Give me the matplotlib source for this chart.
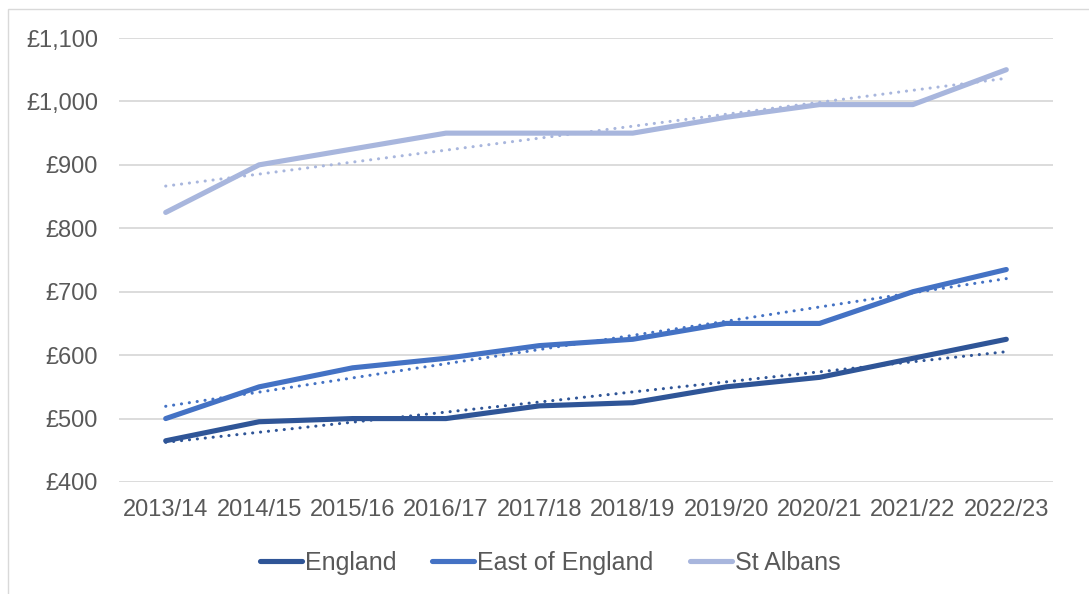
import matplotlib.pyplot as plt
import numpy as np
from matplotlib.patches import Rectangle
from matplotlib.ticker import FuncFormatter

plt.rcParams['font.family'] = ['Liberation Sans', 'DejaVu Sans']

years = ['2013/14', '2014/15', '2015/16', '2016/17', '2017/18',
         '2018/19', '2019/20', '2020/21', '2021/22', '2022/23']
england = [465, 495, 500, 500, 520, 525, 550, 565, 595, 625]
east_of_england = [500, 550, 580, 595, 615, 625, 650, 650, 700, 735]
st_albans = [825, 900, 925, 950, 950, 950, 975, 995, 995, 1050]

series = [
    ('England', england, '#2F5597'),
    ('East of England', east_of_england, '#4472C4'),
    ('St Albans', st_albans, '#A8B6DD'),
]

fig = plt.figure(figsize=(10.89, 5.94), dpi=100)
ax = fig.add_axes([119 / 1089, 1 - 482 / 594, (1053 - 119) / 1089, (482 - 38) / 594])

x = np.arange(len(years))
for name, vals, color in series:
    ax.plot(x, vals, color=color, lw=3.7, solid_capstyle='round',
            solid_joinstyle='round', label=name, zorder=3)
    # linear trendline
    k, b = np.polyfit(x, vals, 1)
    ax.plot(x, k * x + b, color=color, lw=2.2, ls=(0, (0.05, 2.55)),
            dash_capstyle='round', zorder=2)

ax.set_xlim(-0.5, len(years) - 0.5)
ax.set_ylim(400, 1100)
ax.set_yticks(range(400, 1101, 100))
ax.yaxis.set_major_formatter(FuncFormatter(lambda v, p: f'£{v:,.0f}'))
ax.set_xticks(x)
ax.set_xticklabels(years)
ax.grid(axis='y', color='#D9D9D9', lw=1.3)
ax.set_axisbelow(True)
for s in ax.spines.values():
    s.set_visible(False)
ax.tick_params(axis='both', length=0, labelsize=17, colors='#595959')
ax.tick_params(axis='y', pad=15)
ax.tick_params(axis='x', pad=12)

fig.legend(loc='center', bbox_to_anchor=(0.505, 1 - 563 / 594), ncol=3,
           frameon=False, fontsize=18, labelcolor='#595959',
           handlelength=1.68, handletextpad=0.12, columnspacing=1.45)

# chart outline
fig.patches.append(Rectangle((8 / 1089, -0.01), 1.1, 1 - 9 / 594 + 0.01,
                             transform=fig.transFigure, fill=False,
                             edgecolor='#D9D9D9', lw=1.0))

fig.savefig('out.png', dpi=100)
